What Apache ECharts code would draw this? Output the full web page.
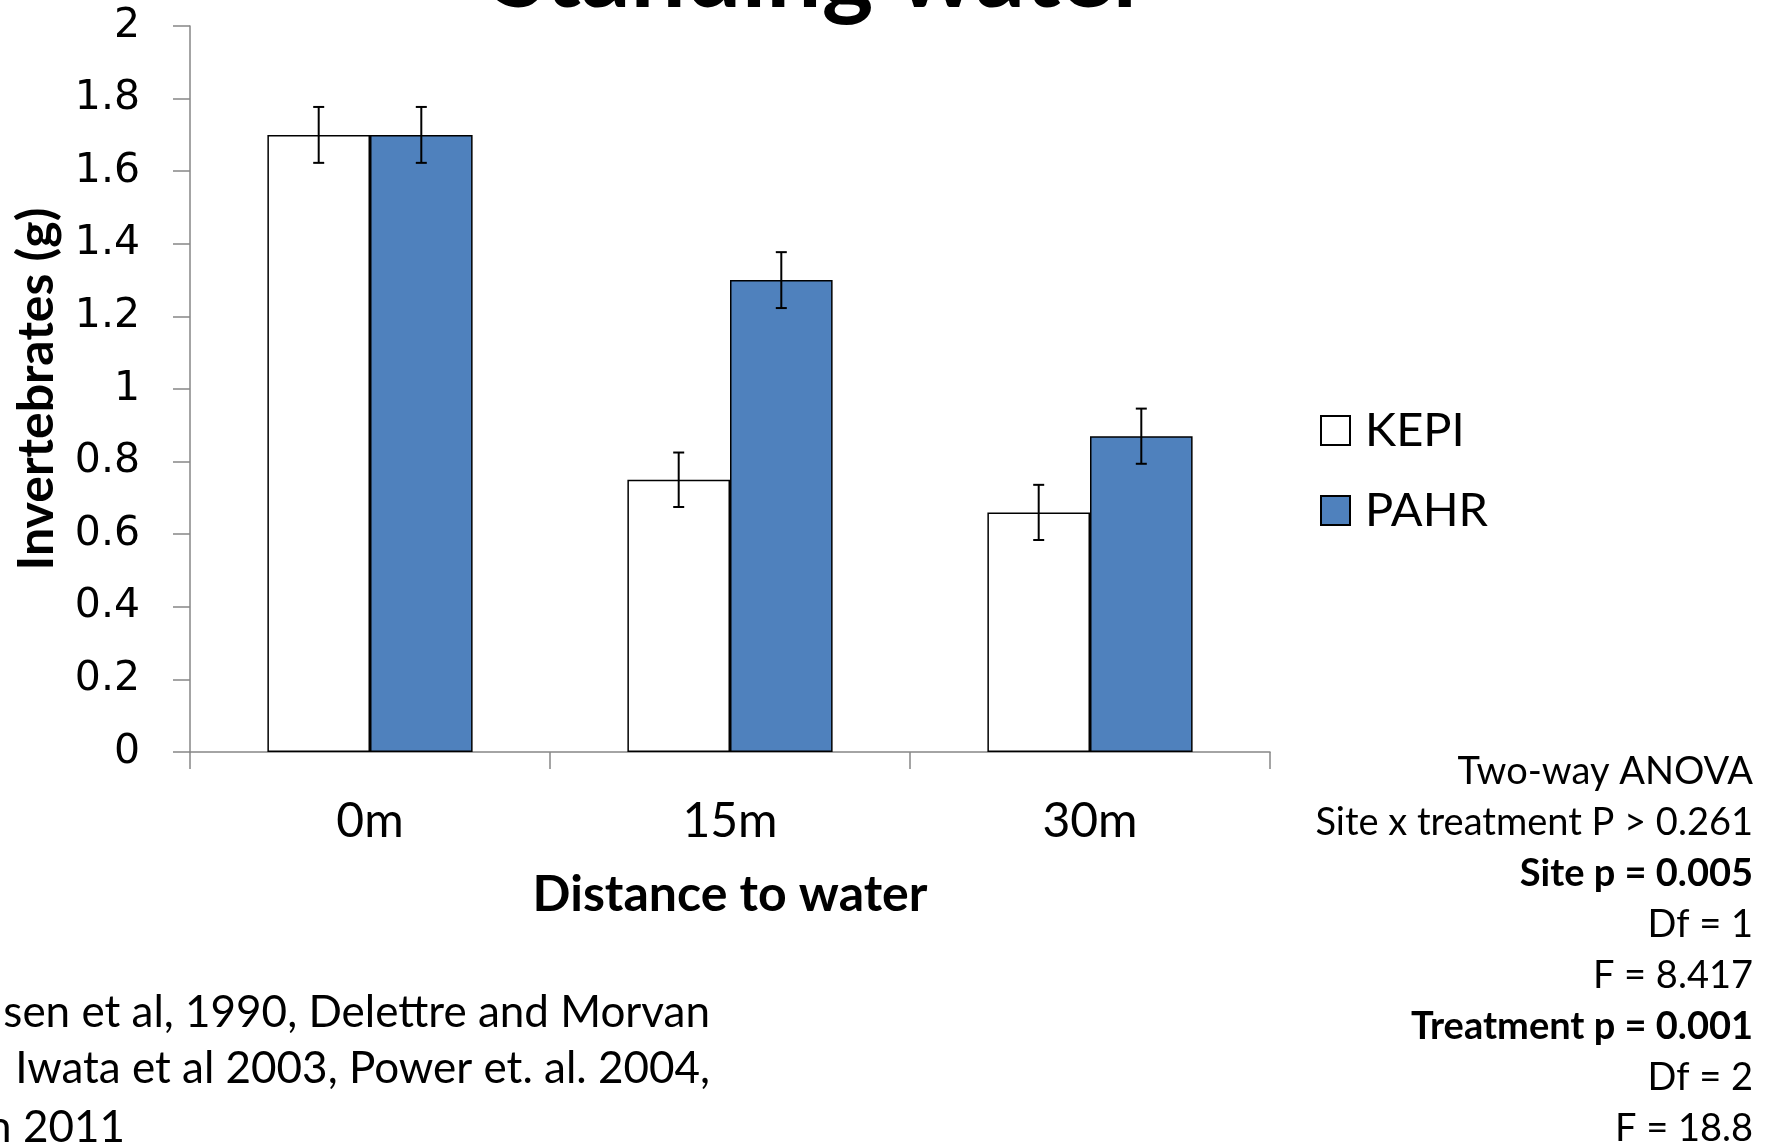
<!DOCTYPE html>
<html>
<head>
<meta charset="utf-8">
<script src="https://cdn.jsdelivr.net/npm/echarts@6/dist/echarts.min.js"></script>
<style>
html,body{margin:0;padding:0;background:#fff;}
#chart{width:1775px;height:1144px;}
</style>
</head>
<body>
<div id="chart"></div>
<script>
// ---- data ----
const categories = ['0m', '15m', '30m'];
const seriesNames = ['KEPI', 'PAHR'];
const kepiValues = [1.70, 0.75, 0.66];
const pahrValues = [1.70, 1.30, 0.87];
const kepiErrors = [0.077, 0.075, 0.076];
const pahrErrors = [0.077, 0.077, 0.076];
const yMin = 0, yMax = 2, yInterval = 0.2;
const titleText = 'Standing water';
const xAxisTitle = 'Distance to water';
const yAxisTitle = 'Invertebrates (g)';
const statsLines = [
  { text: 'Two-way ANOVA', bold: false },
  { text: 'Site x treatment P > 0.261', bold: false },
  { text: 'Site p = 0.005', bold: true },
  { text: 'Df = 1', bold: false },
  { text: 'F = 8.417', bold: false },
  { text: 'Treatment p = 0.001', bold: true },
  { text: 'Df = 2', bold: false },
  { text: 'F = 18.8', bold: false }
];
const refLines = [
  'sen et al, 1990, Delettre and Morvan',
  ' Iwata et al 2003, Power et. al. 2004,',
  'n 2011'
];

const FONT = 'Lato, "Open Sans", sans-serif';
const BAR_GAP_CAT = 0.43;

const chart = echarts.init(document.getElementById('chart'), null, { renderer: 'canvas' });

function errorSeries(name, values, errors, idx) {
  return {
    type: 'custom',
    name: name + ' err',
    z: 10,
    silent: true,
    data: values.map((v, i) => [i, v - errors[i], v + errors[i]]),
    renderItem: function (params, api) {
      const c = api.value(0);
      const lo = api.coord([c, api.value(1)]);
      const hi = api.coord([c, api.value(2)]);
      const band = api.size([1, 0])[0];
      const bw = band * (1 - BAR_GAP_CAT) / 2;
      const x = lo[0] + (idx === 0 ? -bw / 2 : bw / 2);
      const cap = 5.5;
      const st = { stroke: '#000', lineWidth: 2, fill: null };
      return {
        type: 'group',
        children: [
          { type: 'line', shape: { x1: x, y1: lo[1], x2: x, y2: hi[1] }, style: st },
          { type: 'line', shape: { x1: x - cap, y1: lo[1], x2: x + cap, y2: lo[1] }, style: st },
          { type: 'line', shape: { x1: x - cap, y1: hi[1], x2: x + cap, y2: hi[1] }, style: st }
        ]
      };
    }
  };
}

const graphics = [
  {
    type: 'text', x: 821, y: -25,
    style: { text: titleText, font: 'bold 98px ' + FONT, fill: '#000', align: 'center', verticalAlign: 'middle' }
  }
];
statsLines.forEach((l, i) => {
  graphics.push({
    type: 'text', x: 1753, y: 772 + i * 51,
    style: { text: l.text, font: (l.bold ? 'bold ' : '') + '38px ' + FONT, fill: '#000', align: 'right', verticalAlign: 'middle' }
  });
});
const refX = [710, 710, 125];
const refY = [1013, 1069, 1128];
refLines.forEach((t, i) => {
  graphics.push({
    type: 'text', x: refX[i], y: refY[i],
    style: { text: t, font: '44px ' + FONT, fill: '#000', align: 'right', verticalAlign: 'middle' }
  });
});

const option = {
  animation: false,
  backgroundColor: '#fff',
  grid: { left: 190, right: 505, top: 26, bottom: 392, containLabel: false },
  legend: {
    data: seriesNames,
    orient: 'vertical',
    left: 1315,
    top: 402,
    itemWidth: 29,
    itemHeight: 29,
    itemGap: 33,
    icon: 'rect',
    textStyle: { fontFamily: FONT, fontSize: 47, color: '#000', padding: [0, 0, 0, 10] }
  },
  xAxis: {
    type: 'category',
    data: categories,
    name: xAxisTitle,
    nameLocation: 'middle',
    nameGap: 118,
    nameTextStyle: { fontFamily: FONT, fontSize: 50, fontWeight: 'bold', color: '#000' },
    axisLine: { lineStyle: { color: '#868686', width: 1.5 } },
    axisTick: { show: true, length: 17, inside: false, lineStyle: { color: '#868686', width: 1.5 } },
    axisLabel: { fontFamily: FONT, fontSize: 48, color: '#000', margin: 46 },
    splitLine: { show: false }
  },
  yAxis: {
    type: 'value',
    min: yMin, max: yMax, interval: yInterval,
    name: yAxisTitle,
    nameLocation: 'middle',
    nameGap: 128,
    nameTextStyle: { fontFamily: FONT, fontSize: 50, fontWeight: 'bold', color: '#000' },
    axisLine: { show: true, lineStyle: { color: '#868686', width: 1.5 } },
    axisTick: { show: true, length: 17, inside: false, lineStyle: { color: '#868686', width: 1.5 } },
    axisLabel: { fontFamily: '"DejaVu Sans", sans-serif', fontSize: 41, color: '#000', margin: 50,
      formatter: v => String(Math.round(v * 10) / 10) },
    splitLine: { show: false }
  },
  series: [
    {
      type: 'bar', name: seriesNames[0], data: kepiValues,
      barGap: '0%', barCategoryGap: (BAR_GAP_CAT * 100) + '%',
      itemStyle: { color: '#ffffff', borderColor: '#000', borderWidth: 1.5 }
    },
    {
      type: 'bar', name: seriesNames[1], data: pahrValues,
      barGap: '0%', barCategoryGap: (BAR_GAP_CAT * 100) + '%',
      itemStyle: { color: '#4F81BD', borderColor: '#000', borderWidth: 1.5 }
    },
    errorSeries(seriesNames[0], kepiValues, kepiErrors, 0),
    errorSeries(seriesNames[1], pahrValues, pahrErrors, 1)
  ],
  graphic: graphics
};
chart.setOption(option);
</script>
</body>
</html>
